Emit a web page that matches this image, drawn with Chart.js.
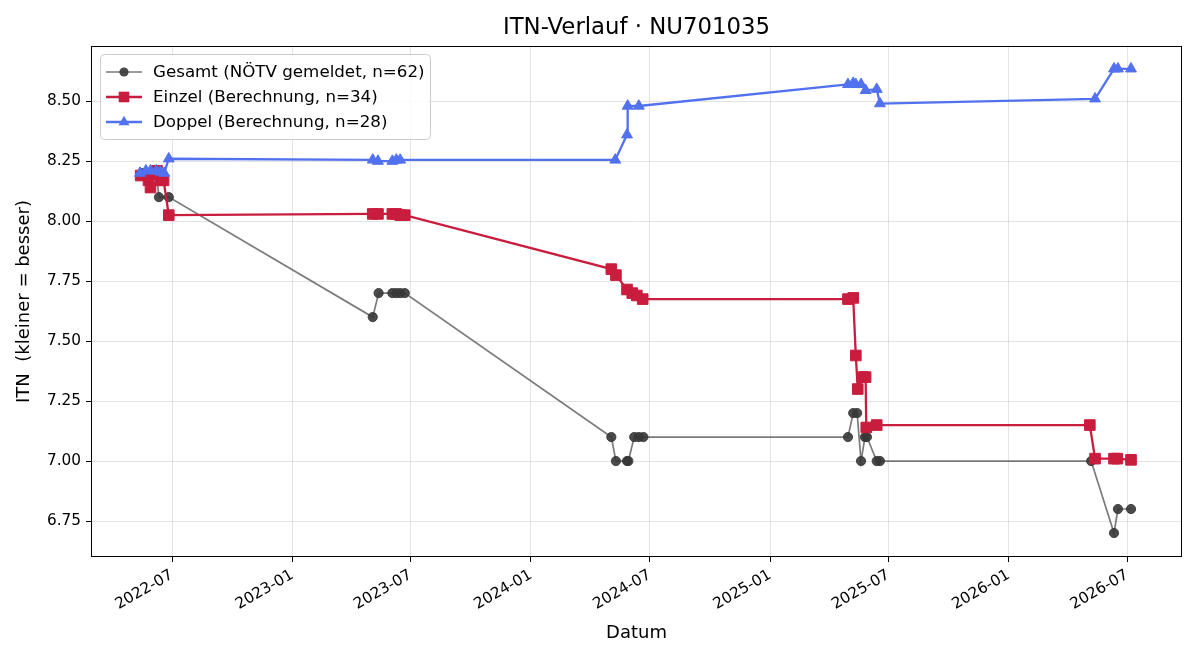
<!DOCTYPE html>
<html><head><meta charset="utf-8">
<script src="https://cdn.jsdelivr.net/npm/chart.js@4.4.1/dist/chart.umd.min.js"></script>
<style>html,body{margin:0;padding:0;background:#fff;}#wrap{width:1200px;height:660px;}</style>
</head><body><div id="wrap"><canvas id="c" width="1200" height="660"></canvas></div>
<script>
const chartTitle = 'ITN-Verlauf · NU701035';
const xAxisTitle = 'Datum';
const yAxisTitle = 'ITN  (kleiner = besser)';
const xTickLabels = ['2022-07','2023-01','2023-07','2024-01','2024-07','2025-01','2025-07','2026-01','2026-07'];
const yTickValues = [6.75, 7.00, 7.25, 7.50, 7.75, 8.00, 8.25, 8.50];
const xMinDate = '2022-02-27';
const xMaxDate = '2026-09-23';
const yMin = 6.60, yMax = 8.73;

const gesamtLabel = 'Gesamt (NÖTV gemeldet, n=62)';
const gesamtDates = ['2022-05-16','2022-05-28','2022-06-07','2022-06-11','2022-06-26',
  '2023-05-04','2023-05-13','2023-06-03','2023-06-09','2023-06-15','2023-06-22',
  '2024-05-03','2024-05-10','2024-05-27','2024-05-29','2024-06-07','2024-06-14','2024-06-21',
  '2025-04-30','2025-05-08','2025-05-14','2025-05-20','2025-05-26','2025-05-29','2025-06-13','2025-06-18',
  '2026-05-07','2026-06-11','2026-06-17','2026-07-07'];
const gesamtValues = [8.20,8.20,8.20,8.10,8.10,
  7.60,7.70,7.70,7.70,7.70,7.70,
  7.10,7.00,7.00,7.00,7.10,7.10,7.10,
  7.10,7.20,7.20,7.00,7.10,7.10,7.00,7.00,
  7.00,6.70,6.80,6.80];

const einzelLabel = 'Einzel (Berechnung, n=34)';
const einzelDates = ['2022-05-14','2022-05-26','2022-05-29','2022-06-08','2022-06-13','2022-06-18','2022-06-26',
  '2023-05-04','2023-05-12','2023-06-03','2023-06-09','2023-06-15','2023-06-22',
  '2024-05-03','2024-05-10','2024-05-27','2024-06-04','2024-06-11','2024-06-20',
  '2025-04-30','2025-05-08','2025-05-12','2025-05-15','2025-05-22','2025-05-27','2025-05-28','2025-06-13',
  '2026-05-05','2026-05-13','2026-06-11','2026-06-16','2026-07-07'];
const einzelValues = [8.19,8.17,8.14,8.21,8.17,8.17,8.025,
  8.03,8.03,8.03,8.03,8.025,8.025,
  7.80,7.775,7.715,7.70,7.69,7.675,
  7.675,7.68,7.44,7.30,7.35,7.35,7.14,7.15,
  7.15,7.01,7.01,7.01,7.005];

const doppelLabel = 'Doppel (Berechnung, n=28)';
const doppelDates = ['2022-05-13','2022-05-22','2022-05-29','2022-06-07','2022-06-13','2022-06-19','2022-06-26',
  '2023-05-04','2023-05-12','2023-06-03','2023-06-09','2023-06-15',
  '2024-05-09','2024-05-27','2024-05-28','2024-06-14',
  '2025-04-30','2025-05-08','2025-05-12','2025-05-20','2025-05-27','2025-06-13','2025-06-18',
  '2026-05-13','2026-06-11','2026-06-17','2026-07-07'];
const doppelValues = [8.20,8.21,8.21,8.21,8.205,8.20,8.26,
  8.255,8.25,8.25,8.255,8.255,
  8.255,8.36,8.48,8.48,
  8.57,8.575,8.57,8.57,8.545,8.55,8.49,
  8.51,8.635,8.635,8.635];

const FONT = '"DejaVu Sans", sans-serif';
const toPts = (d, v) => d.map((s, i) => ({x: Date.parse(s), y: v[i]}));
const xTickValues = xTickLabels.map(l => Date.parse(l + '-01'));

const styles = [
  {label: gesamtLabel, line: 'rgba(90,90,90,0.8)', pt: 'rgba(55,55,55,0.9)', style: 'circle', r: 4.6, w: 1.7},
  {label: einzelLabel, line: '#c91d3e', pt: '#c91d3e', style: 'rect', r: 7.5, w: 2.3},
  {label: doppelLabel, line: '#5271ef', pt: '#5271ef', style: 'triangle', r: 6.3, w: 2.3}
];
const dataArrays = [toPts(gesamtDates, gesamtValues), toPts(einzelDates, einzelValues), toPts(doppelDates, doppelValues)];

const datasets = styles.map((s, i) => ({
  label: s.label, data: dataArrays[i],
  borderColor: s.line, backgroundColor: s.pt,
  pointBackgroundColor: s.pt, pointBorderColor: s.pt, pointBorderWidth: 1,
  pointStyle: s.style, pointRadius: s.r, borderWidth: s.w, tension: 0,
  order: 3 - i
}));

function drawMarker(ctx, style, r, x, y, color) {
  ctx.fillStyle = color;
  ctx.beginPath();
  if (style === 'circle') { ctx.arc(x, y, r, 0, Math.PI * 2); }
  else if (style === 'rect') { const h = r * Math.SQRT1_2; ctx.rect(x - h, y - h, 2 * h, 2 * h); }
  else { const a = r; ctx.moveTo(x, y - a); ctx.lineTo(x + a * 0.866, y + a * 0.5); ctx.lineTo(x - a * 0.866, y + a * 0.5); ctx.closePath(); }
  ctx.fill();
}

const decorPlugin = {
  id: 'decor',
  afterDraw(chart) {
    const {ctx, chartArea: a} = chart;
    ctx.save();
    ctx.strokeStyle = '#000'; ctx.lineWidth = 1;
    ctx.strokeRect(Math.round(a.left) + 0.5, Math.round(a.top) + 0.5, Math.round(a.right - a.left) - 1, Math.round(a.bottom - a.top) - 1);
    ctx.fillStyle = '#000';
    ctx.font = '22.8px ' + FONT;
    ctx.textAlign = 'center'; ctx.textBaseline = 'middle';
    ctx.fillText(chartTitle, (a.left + a.right) / 2, 28);
    // legend
    const lx = 100, ly = 54, lw = 330, lh = 85;
    ctx.beginPath();
    if (ctx.roundRect) ctx.roundRect(lx + 0.5, ly + 0.5, lw, lh, 4); else ctx.rect(lx + 0.5, ly + 0.5, lw, lh);
    ctx.fillStyle = 'rgba(255,255,255,0.85)'; ctx.fill();
    ctx.strokeStyle = '#cccccc'; ctx.lineWidth = 1; ctx.stroke();
    const rows = [72, 97, 122];
    styles.forEach((s, i) => {
      const y = rows[i];
      ctx.strokeStyle = s.line; ctx.lineWidth = s.w;
      ctx.beginPath(); ctx.moveTo(106, y); ctx.lineTo(142, y); ctx.stroke();
      drawMarker(ctx, s.style, s.r, 124, y, s.pt);
      ctx.fillStyle = '#000'; ctx.font = '16.7px ' + FONT;
      ctx.textAlign = 'left'; ctx.textBaseline = 'middle';
      ctx.fillText(s.label, 153, y + 1);
    });
    ctx.restore();
  }
};

Chart.defaults.font.family = FONT;
Chart.defaults.font.size = 15.3;
Chart.defaults.color = '#000';

new Chart(document.getElementById('c'), {
  type: 'line',
  data: {datasets},
  options: {
    responsive: false, animation: false, devicePixelRatio: 1,
    layout: {padding: {top: 46, right: 18, left: 0, bottom: 0}},
    plugins: {legend: {display: false}, title: {display: false}, tooltip: {enabled: false}},
    scales: {
      x: {
        type: 'linear', min: Date.parse(xMinDate), max: Date.parse(xMaxDate),
        afterBuildTicks(s) { s.ticks = xTickValues.map(v => ({value: v})); },
        afterFit(s) { s.height = 103; },
        ticks: {autoSkip: false, minRotation: 30, maxRotation: 30, padding: 4, font: {size: 15.3},
          callback(v) { const i = xTickValues.indexOf(v); return i >= 0 ? xTickLabels[i] : ''; }},
        grid: {color: 'rgba(200,200,200,0.5)', tickColor: '#000', tickLength: 5, drawTicks: true},
        border: {display: false},
        title: {display: true, text: xAxisTitle, font: {size: 18}, padding: {top: 0, bottom: 16}}
      },
      y: {
        type: 'linear', min: yMin, max: yMax,
        afterBuildTicks(s) { s.ticks = yTickValues.map(v => ({value: v})); },
        afterFit(s) { s.width = 91; },
        ticks: {padding: 5, font: {size: 15.3}, callback(v) { return Number(v).toFixed(2); }},
        grid: {color: 'rgba(200,200,200,0.5)', tickColor: '#000', tickLength: 5},
        border: {display: false},
        title: {display: true, text: yAxisTitle, font: {size: 18}, padding: {top: 14, bottom: 0}}
      }
    }
  },
  plugins: [decorPlugin]
});
</script></body></html>
